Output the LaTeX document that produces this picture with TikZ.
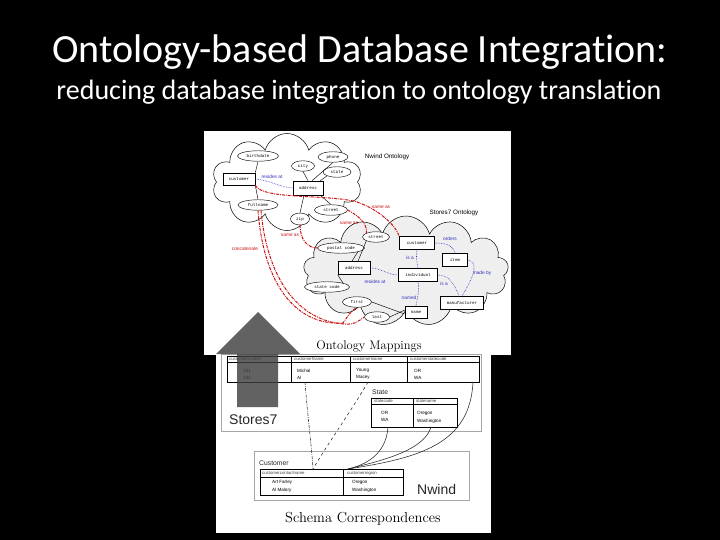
\documentclass[tikz,border=0pt]{standalone}
\usepackage{fontspec}
\newfontfamily\calib[Ligatures=NoCommon]{Carlito}
\newfontfamily\arial{Liberation Sans}
\newfontfamily\cour{Liberation Mono}
\usetikzlibrary{shapes.geometric,shapes.symbols}
\definecolor{redC}{HTML}{CC1111}
\definecolor{blueC}{HTML}{3030C0}
\definecolor{cloudG}{HTML}{EFEFEF}
\definecolor{arrowG}{HTML}{404040}
\begin{document}
\begin{tikzpicture}[x=1pt,y=-1pt,
 ell/.style={ellipse, draw, line width=0.45pt, fill=white, inner sep=0pt, minimum height=10.5pt, font=\cour\fontsize{4.2}{4.5}\selectfont},
 bx/.style={rectangle, draw, line width=0.6pt, fill=white, inner sep=0pt, minimum height=13pt, font=\cour\fontsize{4.2}{4.5}\selectfont},
 bl/.style={font=\arial\fontsize{4.8}{5}\selectfont, text=blueC, inner sep=0pt},
 rl/.style={font=\arial\fontsize{4.8}{5}\selectfont, text=redC, inner sep=0pt},
 bdot/.style={draw=blueC, densely dotted, line width=0.6pt},
 rdd/.style={draw=redC, dash pattern=on 3pt off 1pt on 0.8pt off 1pt, line width=1pt},
 ln/.style={draw, line width=0.45pt},
 tx/.style={font=\arial\fontsize{4.6}{5}\selectfont, inner sep=0pt, anchor=west},
 th/.style={font=\arial\fontsize{4.3}{5}\selectfont, inner sep=0pt, anchor=west, text=black!75},
 tb/.style={line width=0.7pt},
 big/.style={font=\arial\fontsize{14}{16}\selectfont, inner sep=0pt, anchor=west, text=black!85},
 tcap/.style={font=\arial\fontsize{6.8}{8}\selectfont, inner sep=0pt, anchor=west, text=black!85},
 conn/.style={line width=0.55pt, black!85}]
\useasboundingbox (0,0) rectangle (720,540);
\fill[black] (0,0) rectangle (720,540);
% titles
\node[font=\calib\fontsize{40}{48}\selectfont, text=white, anchor=base, inner sep=0pt] (title) at (360,63) {Ontology-based Database Integration:};
\node[font=\calib\fontsize{28}{34}\selectfont, text=white, anchor=base, inner sep=0pt] (subtitle) at (359,100) {reducing database integration to ontology translation};
% picture panels
\fill[white] (204,131) rectangle (511,355);
\fill[white] (216,355) rectangle (491,533);
% clouds
\node[cloud, cloud puffs=10, aspect=1.55, draw, line width=0.5pt, minimum width=150pt, minimum height=97pt, inner sep=0pt] (nwc) at (287,182) {};
\node[cloud, cloud puffs=13, aspect=1.9, draw, line width=0.5pt, fill=cloudG, minimum width=205pt, minimum height=110pt, inner sep=0pt] (s7c) at (406,271) {};
\node[font=\arial\fontsize{6.3}{7}\selectfont, inner sep=0pt] (nwl) at (387,157) {Nwind Ontology};
\node[font=\arial\fontsize{6.3}{7}\selectfont, inner sep=0pt] (s7l) at (454,213) {Stores7 Ontology};
% Nwind ontology nodes
\node[ell, minimum width=41pt] (bd) at (258,156) {birthdate};
\node[ell, minimum width=30pt] (ph) at (333,157) {phone};
\node[ell, minimum width=23pt] (ci) at (303,166) {city};
\node[ell, minimum width=28pt] (st) at (337,172) {state};
\node[bx, minimum width=32pt, minimum height=12pt] (cu) at (239,179) {customer};
\node[bx, minimum width=30pt, minimum height=14pt] (ad) at (308,188) {address};
\node[ell, minimum width=40pt] (fn) at (258,205) {fullname};
\node[ell, minimum width=33pt] (sr) at (331,210) {street};
\node[ell, minimum width=19pt, minimum height=12pt] (zp) at (300,219) {zip};
% Stores7 ontology nodes
\node[ell, minimum width=27pt] (st2) at (376,237) {street};
\node[bx, minimum width=35pt] (cs2) at (417,243) {customer};
\node[ell, minimum width=47pt] (pc) at (341,248) {postal code};
\node[bx, minimum width=25pt] (it) at (455,260) {item};
\node[bx, minimum width=32pt] (ad2) at (354,268) {address};
\node[bx, minimum width=39pt] (iv) at (418,275) {individual};
\node[ell, minimum width=45pt] (sc) at (327,287) {state code};
\node[ell, minimum width=29pt] (fi) at (357,302) {first};
\node[bx, minimum width=43pt] (mf) at (462,303) {manufacturer};
\node[ell, minimum width=25pt] (la) at (377,317) {last};
\node[bx, minimum width=22pt, minimum height=12pt] (nm) at (416,312) {name};
% Nwind edges
\draw[ln] (cu.north east) -- (bd.south);
\draw[ln] (cu.south east) -- (fn.north);
\draw[ln] (ad.north) -- (ci.south);
\draw[ln] ([xshift=4pt]ad.north) -- (ph.south);
\draw[ln] ([xshift=-3pt]ad.north east) -- (st.south west);
\draw[ln] ([xshift=-3pt]ad.south east) -- (sr.north);
\draw[ln] ([xshift=-4pt]ad.south) -- (zp.north);
\draw[bdot] (cu.east) to[out=-5, in=175] (ad.west);
\node[bl] (lra) at (272,177) {resides at};
% Stores7 edges
\draw[ln] (st2.south west) -- ([xshift=4pt]ad2.north);
\draw[ln] (pc.south east) -- ([xshift=-2pt]ad2.north);
\draw[ln] (sc.north east) -- (ad2.south west);
\draw[ln] (fi.east) -- ([yshift=-2pt]nm.west);
\draw[ln] (la.east) -- ([yshift=2pt]nm.west);
\draw[bdot] (ad2.east) to[out=0, in=180] (iv.west);
\draw[bdot] (cs2.south) to[out=-100, in=100] (iv.north);
\draw[bdot] (cs2.east) to[out=0, in=100] (it.north);
\draw[bdot] (it.east) to[out=-10, in=60] (mf.north);
\draw[bdot] (iv.east) to[out=0, in=110] ([xshift=-3pt]mf.north);
\draw[bdot] (iv.south) to[out=-80, in=80] (nm.north);
\node[bl] (lor) at (450,239) {orders};
\node[bl] (lis1) at (410,258) {is a};
\node[bl] (lmb) at (482,273) {made by};
\node[bl] (lra2) at (375,282) {resides at};
\node[bl] (lis2) at (444,284) {is a};
\node[bl] (lnm) at (409,298) {named};
% red mappings
\draw[rdd] (cu.south east) .. controls (262,200) and (330,194) .. (357,202) .. controls (380,210) and (396,226) .. (cs2.north west);
\draw[rdd] (sr.east) .. controls (355,214) and (368,222) .. (st2.north west);
\draw[rdd] (zp.south) .. controls (300,240) and (308,248) .. (pc.west);
\draw[rdd] (fn.south) .. controls (264,290) and (300,326) .. (343,323) .. controls (347,318) and (349,312) .. (fi.south);
\draw[rdd] ([xshift=3pt]fn.south) .. controls (268,288) and (305,322) .. (345,324) .. controls (355,325) and (360,320) .. (la.west);
\node[rl] (rs1) at (381,207) {same as};
\node[rl] (rs2) at (349,223) {same as};
\node[rl] (rs3) at (290,235) {same as};
\node[rl] (rcc) at (245,249) {concatenate};
% captions
\node[font=\fontsize{12.5}{14}\selectfont, inner sep=0pt] (om) at (369,346) {Ontology Mappings};
\node[font=\fontsize{14.5}{16}\selectfont, inner sep=0pt] (sco) at (363,519) {Schema Correspondences};
% Stores7 schema
\draw[draw=black!35, line width=0.9pt] (221,354) rectangle (481,431);
\draw[tb] (227,356) rectangle (479,382);
\draw[tb] (227,362.5) -- (479,362.5);
\draw[tb] (291,356) -- (291,382) (350,356) -- (350,382) (407,356) -- (407,382);
\node[th] (h1) at (229,359.3) {customernumber};
\node[th] (h2) at (294,359.3) {customerfname};
\node[th] (h3) at (353,359.3) {customerlname};
\node[th] (h4) at (410,359.3) {customerstatecode};
\node[tx] (d11) at (243,370.5) {101};
\node[tx] (d12) at (243,377.5) {102};
\node[tx] (d21) at (297,370.5) {Michal};
\node[tx] (d22) at (297,377.5) {Al};
\node[tx] (d31) at (356,370.5) {Young};
\node[tx] (d32) at (356,377.5) {Macey};
\node[tx] (d41) at (414,370.5) {OR};
\node[tx] (d42) at (414,377.5) {WA};
\node[tcap] (stl) at (372,392) {State};
\draw[tb] (371,398) rectangle (457,427);
\draw[tb] (371,404.5) -- (457,404.5) (413,398) -- (413,427);
\node[th] (sh1) at (374,401.3) {statecode};
\node[th] (sh2) at (416,401.3) {statename};
\node[tx] (sd11) at (381,412.5) {OR};
\node[tx] (sd12) at (381,420) {WA};
\node[tx] (sd21) at (417,413) {Oregon};
\node[tx] (sd22) at (417,421) {Washington};
\node[big] (s7n) at (229,420) {Stores7};
% Nwind schema
\draw[draw=black!35, line width=0.9pt] (254,451) rectangle (469,500);
\node[tcap] (cul) at (259,463) {Customer};
\draw[tb] (260,469) rectangle (403,495);
\draw[tb] (260,477) -- (403,477) (343,469) -- (343,495);
\node[th] (ch1) at (262,473) {customercontactname};
\node[th] (ch2) at (347,473) {customerregion};
\node[tx] (cd11) at (272,482.5) {Art Farley};
\node[tx] (cd12) at (272,490.5) {Al Malory};
\node[tx] (cd21) at (352,482.5) {Oregon};
\node[tx] (cd22) at (352,490.5) {Washington};
\node[big] (nwn) at (417,489) {Nwind};
% correspondences
\coordinate (pFn) at (305,382);
\coordinate (pLn) at (368,382);
\coordinate (pSc) at (388,427);
\coordinate (pSn) at (431,427);
\coordinate (pSt) at (473,382);
\coordinate (pCc) at (313,469);
\coordinate (pCr) at (348,469);
\draw[conn, dash pattern=on 3pt off 1.2pt on 0.8pt off 1.2pt] (pFn) .. controls (308,420) and (312,450) .. (pCc);
\draw[conn, dashed] (pLn) .. controls (355,405) and (325,448) .. (pCc);
\draw[conn] (pSc) .. controls (386,455) and (365,465) .. (pCr);
\draw[conn] (pSn) .. controls (424,452) and (375,462) .. (pCr);
\draw[conn] (pSt) .. controls (470,445) and (418,458) .. (pCr);
% big arrow
\fill[arrowG, opacity=0.82] (258,312) -- (300,354) -- (278,354) -- (278,407) -- (237,407) -- (237,354) -- (216,354) -- cycle;
\end{tikzpicture}
\end{document}
